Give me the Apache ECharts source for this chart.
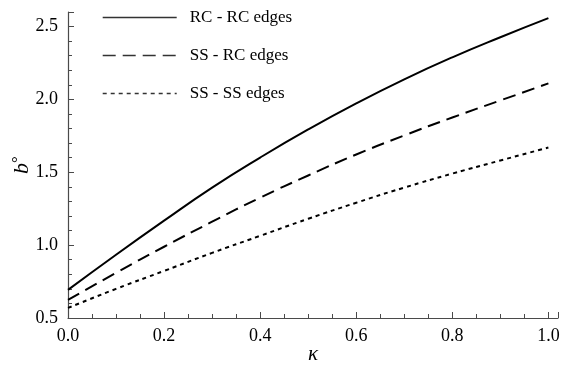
<!DOCTYPE html>
<html>
<head>
<meta charset="utf-8">
<script src="https://cdn.jsdelivr.net/npm/echarts@6/dist/echarts.min.js"></script>
<style>
  html, body { margin: 0; padding: 0; background: #fff; }
  #chart { width: 565px; height: 368px; }
</style>
</head>
<body>
<div id="chart"></div>
<script>
// kappa sample points
const kappa = [0.0, 0.1, 0.2, 0.3, 0.4, 0.5, 0.6, 0.7, 0.8, 0.9, 1.0];

// b° for each edge pairing
const rcRc = [0.693, 0.934, 1.168, 1.395, 1.601, 1.794, 1.973, 2.138, 2.289, 2.427, 2.558];
const ssRc = [0.624, 0.810, 0.989, 1.161, 1.326, 1.478, 1.622, 1.753, 1.876, 1.993, 2.110];
const ssSs = [0.569, 0.700, 0.823, 0.947, 1.064, 1.181, 1.291, 1.395, 1.491, 1.581, 1.670];

const seriesNames = ['RC - RC edges', 'SS - RC edges', 'SS - SS edges'];

const serif = '"Liberation Serif", "DejaVu Serif", serif';
const axisColor = '#4a4a4a';

function pairs(ys) {
  return kappa.map((k, i) => [k, ys[i]]);
}

function lineSeries(name, ys, type) {
  return {
    name: name,
    type: 'line',
    data: pairs(ys),
    smooth: true,
    symbol: 'none',
    lineStyle: { color: '#000', width: 2, type: type },
    itemStyle: { color: '#000' },
    silent: true,
    animation: false
  };
}

const chart = echarts.init(document.getElementById('chart'), null, { renderer: 'canvas' });

chart.setOption({
  backgroundColor: '#fff',
  animation: false,
  grid: { left: 68, right: 7, top: 12, bottom: 50, containLabel: false, outerBoundsMode: 'none' },
  legend: {
    orient: 'vertical',
    left: 97,
    top: 4,
    itemWidth: 74,
    itemHeight: 14,
    itemGap: 21,
    itemStyle: { opacity: 0 },
    lineStyle: { width: 1.4, color: '#333', opacity: 1 },
    textStyle: { fontFamily: serif, fontSize: 17, color: '#000', padding: [0, 0, 0, 8] },
    data: seriesNames
  },
  xAxis: {
    type: 'value',
    min: 0,
    max: 1.02,
    interval: 0.2,
    name: 'κ',
    nameLocation: 'middle',
    nameGap: 26,
    nameMoveOverlap: false,
    nameTextStyle: { fontFamily: serif, fontSize: 21, fontStyle: 'italic', color: '#000' },
    axisLine: { show: true, lineStyle: { color: axisColor, width: 1.2 } },
    axisTick: { show: true, inside: true, length: 6, lineStyle: { color: axisColor } },
    minorTick: { show: true, splitNumber: 4, length: 4, lineStyle: { color: axisColor } },
    splitLine: { show: false },
    minorSplitLine: { show: false },
    axisLabel: {
      fontFamily: serif, fontSize: 18, color: '#000', margin: 9,
      showMaxLabel: false,
      formatter: v => v.toFixed(1)
    }
  },
  yAxis: {
    type: 'value',
    min: 0.5,
    max: 2.6,
    interval: 0.5,
    name: '{i|b}{s|°}',
    nameLocation: 'middle',
    nameGap: 33,
    nameRotate: 90,
    nameMoveOverlap: false,
    nameTextStyle: {
      color: '#000',
      rich: {
        i: { fontFamily: serif, fontSize: 22, fontStyle: 'italic', color: '#000' },
        s: { fontFamily: serif, fontSize: 17, color: '#000', verticalAlign: 'top', padding: [0, 0, 8, 0] }
      }
    },
    axisLine: { show: true, lineStyle: { color: axisColor, width: 1.2 } },
    axisTick: { show: true, inside: true, length: 6, lineStyle: { color: axisColor } },
    minorTick: { show: true, splitNumber: 5, length: 4, lineStyle: { color: axisColor } },
    splitLine: { show: false },
    minorSplitLine: { show: false },
    axisLabel: {
      fontFamily: serif, fontSize: 18, color: '#000', margin: 10,
      showMaxLabel: false,
      formatter: v => v.toFixed(1)
    }
  },
  series: [
    lineSeries(seriesNames[0], rcRc, 'solid'),
    lineSeries(seriesNames[1], ssRc, [13, 7]),
    lineSeries(seriesNames[2], ssSs, [4, 4])
  ]
});
</script>
</body>
</html>
